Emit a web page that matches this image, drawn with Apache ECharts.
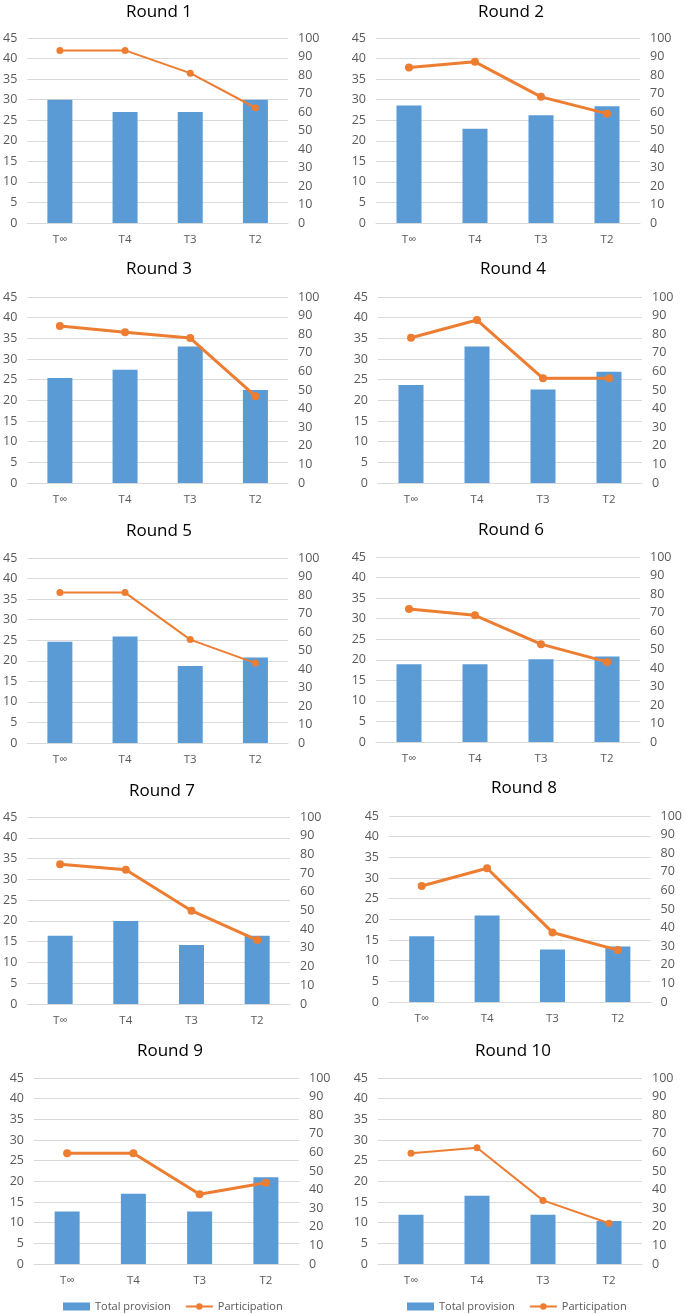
<!DOCTYPE html>
<html>
<head>
<meta charset="utf-8">
<script src="https://cdn.jsdelivr.net/npm/echarts@6.0.0/dist/echarts.min.js"></script>
<style>
  html, body { margin: 0; padding: 0; background: #fff; }
  #chart { width: 685px; height: 1314px; }
</style>
</head>
<body>
<div id="chart"></div>
<script>
// ---------- DATA ----------
const categories = ['T\u221E', 'T4', 'T3', 'T2'];
const roundTitles = ['Round 1', 'Round 2', 'Round 3', 'Round 4', 'Round 5',
                     'Round 6', 'Round 7', 'Round 8', 'Round 9', 'Round 10'];
const seriesNames = ['Total provision', 'Participation'];
// Total provision (left axis) per round, in category order
const provisionByRound = [
  [30.0, 27.0, 27.0, 30.0],
  [28.6, 22.9, 26.2, 28.4],
  [25.4, 27.4, 33.0, 22.5],
  [23.7, 33.0, 22.6, 26.9],
  [24.6, 25.9, 18.7, 20.8],
  [18.9, 18.9, 20.1, 20.8],
  [16.4, 20.0, 14.2, 16.4],
  [15.9, 20.9, 12.7, 13.4],
  [12.7, 17.0, 12.7, 21.0],
  [11.9, 16.5, 11.9, 10.4]
];
// Participation (right axis) per round, in category order
const participationByRound = [
  [93.3, 93.3, 81.0, 62.3],
  [84.0, 87.1, 68.2, 59.1],
  [84.4, 81.1, 77.9, 46.7],
  [78.1, 87.6, 56.3, 56.3],
  [81.3, 81.3, 55.9, 43.2],
  [71.9, 68.5, 52.9, 43.3],
  [74.7, 71.8, 49.9, 34.2],
  [62.4, 71.9, 37.4, 27.9],
  [59.5, 59.5, 37.5, 43.7],
  [59.5, 62.5, 34.2, 21.9]
];
// axis ticks
const leftAxisTicks = { min: 0, max: 45, interval: 5 };
const rightAxisTicks = { min: 0, max: 100, interval: 10 };

// ---------- LAYOUT / STYLE ----------
const gridBoxes = [
  [24, 38, 264, 185], [376, 38, 264, 185],
  [24, 297, 264, 186], [378, 297, 264, 186],
  [24, 558, 264, 185], [376, 557, 264, 185],
  [27, 817, 263, 187], [389, 816, 264, 186],
  [34, 1078, 265, 186], [378, 1078, 264, 186]
];
const titlePos = [
  [159, 11], [511, 11], [159, 268], [513, 268], [159, 530],
  [511, 529], [162, 790], [524, 787], [170, 1050], [513, 1050]
];
const lineWidths = [2, 3, 3, 3, 2, 3, 3, 3, 3, 2];
const FONT = '"Open Sans", "Noto Sans", sans-serif';
const BLUE = '#5B9BD5', ORANGE = '#ED7D31', GRID = '#D9D9D9', LABEL = '#595959';

const titles = [], grids = [], xAxes = [], yAxes = [], series = [];
roundTitles.forEach((t, i) => {
  titles.push({
    text: t, left: titlePos[i][0], top: titlePos[i][1] - 7, textAlign: 'center', padding: 0,
    textStyle: { fontSize: 17, fontWeight: 'normal', color: '#000', fontFamily: FONT }
  });
  const g = gridBoxes[i];
  grids.push({ left: g[0], top: g[1], width: g[2], height: g[3] });
  xAxes.push({
    type: 'category', gridIndex: i, data: categories,
    axisLine: { show: true, lineStyle: { color: GRID, width: 1 } },
    axisTick: { show: false },
    axisLabel: { color: LABEL, fontSize: 11.5, margin: 11, fontFamily: FONT }
  });
  yAxes.push({
    type: 'value', gridIndex: i, position: 'left',
    min: leftAxisTicks.min, max: leftAxisTicks.max, interval: leftAxisTicks.interval,
    axisLine: { show: false }, axisTick: { show: false },
    splitLine: { show: true, lineStyle: { color: GRID, width: 1 } },
    axisLabel: { color: LABEL, fontSize: 12.5, margin: 10, fontFamily: FONT }
  });
  yAxes.push({
    type: 'value', gridIndex: i, position: 'right',
    min: rightAxisTicks.min, max: rightAxisTicks.max, interval: rightAxisTicks.interval,
    axisLine: { show: false }, axisTick: { show: false },
    splitLine: { show: false },
    axisLabel: { color: LABEL, fontSize: 12.5, margin: 10, fontFamily: FONT }
  });
  series.push({
    name: seriesNames[0], type: 'bar', xAxisIndex: i, yAxisIndex: 2 * i,
    data: provisionByRound[i], barWidth: 25,
    itemStyle: { color: BLUE }
  });
  series.push({
    name: seriesNames[1], type: 'line', xAxisIndex: i, yAxisIndex: 2 * i + 1,
    data: participationByRound[i], symbol: 'circle',
    symbolSize: lineWidths[i] === 2 ? 7 : 8,
    lineStyle: { color: ORANGE, width: lineWidths[i] },
    itemStyle: { color: ORANGE, borderWidth: 0 }
  });
});

const legendCommon = {
  top: 1301, itemWidth: 27, itemHeight: 8, itemGap: 14, padding: 0,
  textStyle: { color: LABEL, fontSize: 11, fontFamily: FONT },
  data: [{ name: seriesNames[0], icon: 'rect' }, { name: seriesNames[1] }]
};

const chart = echarts.init(document.getElementById('chart'), null, { renderer: 'canvas' });
chart.setOption({
  animation: false,
  backgroundColor: '#fff',
  title: titles,
  grid: grids,
  xAxis: xAxes,
  yAxis: yAxes,
  legend: [
    Object.assign({}, legendCommon, { left: 63 }),
    Object.assign({}, legendCommon, { left: 407 })
  ],
  series: series
});
</script>
</body>
</html>
